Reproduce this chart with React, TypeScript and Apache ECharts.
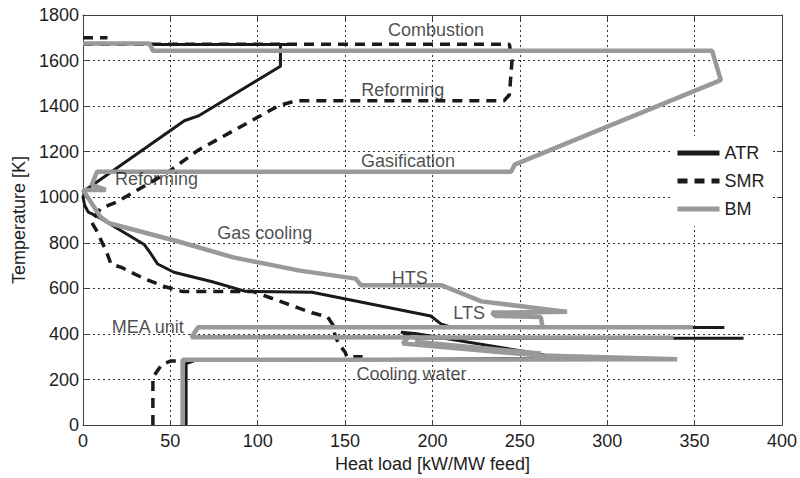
import React, { useEffect, useRef } from "react";
import * as echarts from "echarts";

// ---- Data (heat load [kW/MW feed], temperature [K]) ----
const atrTop = [[41.5, 1670], [118, 1670]];
const atrHot = [
  [113, 1670], [113, 1575], [66, 1357], [58, 1336], [1, 1030], [0, 1000], [1, 964], [3, 935], [7, 921],
  [35, 793], [39, 750], [42.7, 707], [52, 671], [74, 629], [93, 587], [131, 583], [199, 479], [205, 443],
  [212, 428], [367, 428],
];
const atrLow = [
  [378, 381], [190, 382], [182, 408], [190, 402], [260, 314], [272, 292], [64, 283], [59, 270], [59, 0],
];

const smrTop = [[0, 1700], [14, 1700]];
const smrHot = [
  [0, 1672], [244, 1672], [245.5, 1600], [244, 1450], [241, 1424], [122, 1424], [112, 1402], [66, 1207],
  [48, 1107], [19, 978], [10, 950], [4.7, 893], [8, 850], [11, 800], [13, 770], [16, 707], [22, 692],
  [35, 643], [47, 607], [54, 593], [57, 586], [97, 587], [131, 493], [140, 475], [143, 440], [144, 400],
  [146, 360], [150, 320], [151, 300], [160, 300],
];
const smrCold = [[40, 0], [40, 210], [45, 265], [50, 281], [60, 283]];

const bmMain = [
  [0, 1675], [38, 1675], [40, 1643], [360, 1643], [365, 1514], [247, 1143], [245, 1112], [8, 1112],
  [5, 1055], [13, 1032], [0, 1032], [10, 914], [15, 886], [54, 807], [86, 736], [124, 678], [156, 643],
  [159, 614], [205, 614], [228, 543], [277, 497], [234, 494], [236, 479], [262, 474], [263, 430],
  [349, 430], [66, 430], [62, 386], [338, 383],
];
const bmWedgeTop = [[190, 366], [262, 314]];
const bmLow = [[186, 384], [183, 358], [262, 305], [340, 289], [57, 287], [57, 0]];

const labelNames = ["Combustion", "Reforming", "Gasification", "Reforming", "Gas cooling", "HTS", "LTS", "MEA unit", "Cooling water"];
const labelX = [202, 183, 186, 42, 104, 187, 221, 37, 188];
const labelY = [1736, 1470, 1161, 1080, 844, 647, 493, 429, 223];

const FONT = "Liberation Sans, Arial, Helvetica, sans-serif";
const TXT = "#1e1e1e";

export default function App() {
  const ref = useRef<HTMLDivElement>(null);
  useEffect(() => {
    if (!ref.current) return;
    const chart = echarts.init(ref.current, undefined, { renderer: "svg" });
    const atrStyle = { color: "#1a1a1a", width: 3, type: "solid" as const };
    const smrStyle = { color: "#1a1a1a", width: 3.5, type: [10, 7] as any };
    const bmStyle = { color: "#999999", width: 4.5, type: "solid" as const };
    const mk = (name: string, data: number[][], ls: any, z: number) => ({
      type: "line",
      name,
      data,
      symbol: "none",
      showSymbol: false,
      lineStyle: ls,
      itemStyle: { color: ls.color },
      z,
      silent: true,
    });
    const axisCommon = {
      type: "value" as const,
      axisLine: { show: true, onZero: false, lineStyle: { color: "#404040", width: 1 } },
      axisTick: { show: true, inside: true, length: 5, lineStyle: { color: "#404040" } },
    };
    chart.setOption({
      animation: false,
      backgroundColor: "#ffffff",
      textStyle: { fontFamily: FONT },
      grid: { left: 83, right: 14, top: 15, bottom: 43, containLabel: false },
      xAxis: [
        {
          ...axisCommon,
          position: "bottom",
          min: 0,
          max: 400,
          interval: 50,
          name: "Heat load [kW/MW feed]",
          nameLocation: "middle",
          nameGap: 25,
          nameTextStyle: { fontSize: 18, color: TXT, fontFamily: FONT },
          axisLabel: { fontSize: 18, color: TXT, margin: 7, fontFamily: FONT, formatter: (v: number) => String(v) },
          splitLine: { show: true, lineStyle: { color: "#333", width: 1, type: [2, 3] } },
        },
        {
          ...axisCommon,
          position: "top",
          min: 0,
          max: 400,
          interval: 50,
          axisLabel: { show: false },
          splitLine: { show: false },
        },
      ],
      yAxis: [
        {
          ...axisCommon,
          position: "left",
          min: 0,
          max: 1800,
          interval: 200,
          name: "Temperature [K]",
          nameLocation: "middle",
          nameGap: 54,
          nameTextStyle: { fontSize: 18, color: TXT, fontFamily: FONT },
          axisLabel: { fontSize: 18, color: TXT, margin: 4, fontFamily: FONT, formatter: (v: number) => String(v) },
          splitLine: { show: true, lineStyle: { color: "#333", width: 1, type: [2, 3] } },
        },
        {
          ...axisCommon,
          position: "right",
          min: 0,
          max: 1800,
          interval: 200,
          axisLabel: { show: false },
          splitLine: { show: false },
        },
      ],
      legend: {
        data: ["ATR", "SMR", "BM"],
        orient: "vertical",
        left: 670,
        top: 136,
        padding: [8, 6, 8, 5],
        itemWidth: 42,
        itemHeight: 14,
        itemGap: 10,
        backgroundColor: "#ffffff",
        borderWidth: 0,
        lineStyle: { width: 5 },
        itemStyle: { color: "transparent", borderWidth: 0, opacity: 0 },
        textStyle: { fontSize: 18, color: TXT, fontFamily: FONT },
        selectedMode: false,
      },
      series: [
        mk("SMR", smrTop, smrStyle, 2),
        mk("SMR", smrHot, smrStyle, 2),
        mk("SMR", smrCold, smrStyle, 2),
        mk("ATR", atrTop, atrStyle, 3),
        mk("ATR", atrHot, atrStyle, 3),
        mk("ATR", atrLow, atrStyle, 3),
        mk("BM", bmMain, bmStyle, 4),
        mk("BM", bmWedgeTop, bmStyle, 4),
        mk("BM", bmLow, bmStyle, 4),
        {
          type: "scatter",
          name: "labels",
          symbolSize: 0,
          silent: true,
          z: 6,
          data: labelNames.map((n, i) => ({ name: n, value: [labelX[i], labelY[i]] })),
          label: {
            show: true,
            position: "inside",
            formatter: "{b}",
            fontSize: 18,
            color: TXT,
            fontFamily: FONT,
          },
        },
      ],
    });
    return () => chart.dispose();
  }, []);
  return (
    <div
      ref={ref}
      style={{ position: "fixed", left: 0, top: 0, width: 800, height: 478, background: "#fff" }}
    />
  );
}
